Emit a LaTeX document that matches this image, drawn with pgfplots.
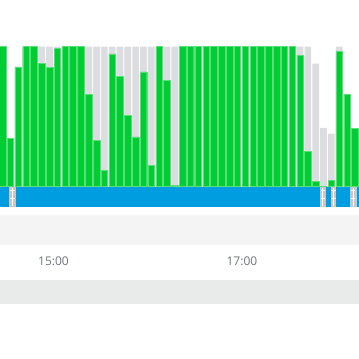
\documentclass[border=0pt]{standalone}
\usepackage{pgfplots}
\pgfplotsset{compat=1.18}
\usepackage{fontspec}
\setmainfont{Open Sans}
\definecolor{grn}{RGB}{0,204,51}
\definecolor{grnedge}{RGB}{90,222,120}
\definecolor{bg}{RGB}{220,221,224}
\definecolor{strip}{RGB}{0,158,224}
\definecolor{mk}{RGB}{200,200,200}
\definecolor{bandA}{RGB}{244,244,244}
\definecolor{bandB}{RGB}{233,235,234}
\definecolor{lbl}{RGB}{110,116,125}
\begin{document}
\begin{tikzpicture}
\path[use as bounding box] (0pt,0pt) rectangle (359pt,359pt);
% bars
\begin{axis}[at={(0pt,172.3pt)},anchor=south west,width=359pt,height=140pt,scale only axis,
  hide axis,xmin=-0.322,xmax=45.53,ymin=0,ymax=1,clip=true]
\addplot[ybar,bar width=0.86,bar shift=0pt,fill=bg,draw=none] coordinates {
(0,1)(1,0.345)(2,0.855)(3,1)(4,1)(5,1)(6,1)(7,1)(8,1)(9,1)(10,1)(11,1)(12,1)(13,1)(14,1)(15,1)
(16,1)(17,1)(18,1)(19,1)(20,1)(21,1)(22,1)(23,1)(24,1)(25,1)(26,1)(27,1)(28,1)(29,1)(30,1)
(31,1)(32,1)(33,1)(34,1)(35,1)(36,1)(37,1)(38,1)(39,1)(40,0.879)(41,0.421)(42,0.379)(43,1)(44,0.66)(45,0.417)};
\addplot[ybar,bar width=0.84,bar shift=0pt,fill=grn,draw=grnedge,line width=0.4pt] coordinates {
(0,1)(1,0.345)(2,0.855)(3,1)(4,1)(5,0.881)(6,0.850)(7,0.986)(8,1)(9,1)(10,1)(11,0.662)(12,0.333)
(13,0.119)(14,0.948)(15,0.786)(16,0.512)(17,0.355)(18,0.821)(19,0.150)(20,1)(21,0.762)(22,0.012)
(23,1)(24,1)(25,1)(26,1)(27,1)(28,1)(29,1)(30,1)(31,1)(32,1)(33,1)(34,1)(35,1)(36,1)(37,1)
(38,0.940)(39,0.250)(40,0.040)(41,0)(42,0.045)(43,0.967)(44,0.660)(45,0.417)};
\end{axis}
% strip
\begin{axis}[at={(0pt,152.3pt)},anchor=south west,width=359pt,height=20pt,scale only axis,
  hide axis,xmin=-0.322,xmax=45.53,ymin=0,ymax=1,clip=true]
\addplot[fill=strip,draw=none] coordinates {(-0.322,0)(45.53,0)(45.53,1)(-0.322,1)} -- cycle;
\addplot[ybar,bar width=0.856,bar shift=0pt,fill=mk,draw=none] coordinates {(1.255,1)};
\addplot[ybar,bar width=0.73,bar shift=0pt,fill=mk,draw=none] coordinates {(40.90,1)};
\addplot[ybar,bar width=0.60,bar shift=0pt,fill=mk,draw=none] coordinates {(42.25,1)};
\addplot[ybar,bar width=0.856,bar shift=0pt,fill=mk,draw=none] coordinates {(44.80,1)};
\addplot[white,line width=0.8pt] coordinates {(1.255,0.05)(1.255,0.95)};
\addplot[white,line width=0.8pt] coordinates {(40.90,0.05)(40.90,0.95)};
\addplot[white,line width=0.8pt] coordinates {(42.25,0.05)(42.25,0.95)};
\addplot[white,line width=0.8pt] coordinates {(44.80,0.05)(44.80,0.95)};
\addplot[only marks,mark=-,mark size=2.2pt,white,mark options={line width=0.6pt}] coordinates {
(1.255,0.81)(1.255,0.41)(40.90,0.81)(40.90,0.41)(42.25,0.81)(42.25,0.41)(44.80,0.81)(44.80,0.41)};
\end{axis}
% bands and labels
\begin{axis}[at={(0pt,55pt)},anchor=south west,width=359pt,height=89pt,scale only axis,
  hide axis,xmin=-0.322,xmax=45.53,ymin=55,ymax=144,clip=false]
\addplot[fill=bandA,draw=none] coordinates {(-0.322,114)(45.53,114)(45.53,144)(-0.322,144)} -- cycle;
\addplot[fill=bandB,draw=none] coordinates {(-0.322,55.3)(45.53,55.3)(45.53,79)(-0.322,79)} -- cycle;
\node[text=lbl,font=\fontsize{12}{14}\selectfont,inner sep=0pt] at (axis cs:6.51,97.7) {15:00};
\node[text=lbl,font=\fontsize{12}{14}\selectfont,inner sep=0pt] at (axis cs:30.58,97.7) {17:00};
\end{axis}
\end{tikzpicture}
\end{document}
